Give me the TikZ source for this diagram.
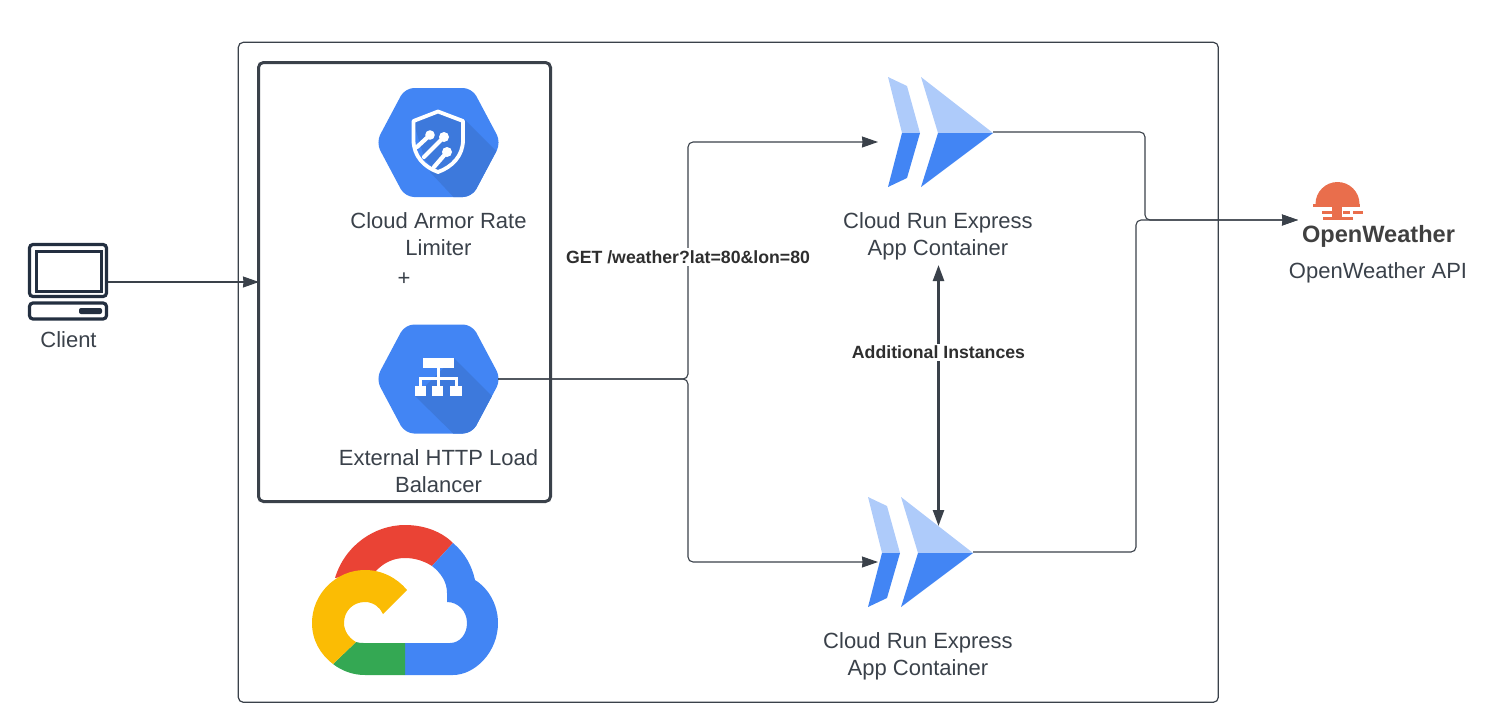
\documentclass[tikz,border=0pt]{standalone}
\usepackage{fontspec}
\setmainfont{Liberation Sans}
\usetikzlibrary{arrows.meta}
\definecolor{ink}{HTML}{3A414A}
\definecolor{navy}{HTML}{232F40}
\definecolor{gblue}{HTML}{4285F4}
\definecolor{gdark}{HTML}{3D79DC}
\definecolor{glight}{HTML}{AECBFA}
\definecolor{gred}{HTML}{EA4335}
\definecolor{gyel}{HTML}{FBBC04}
\definecolor{ggreen}{HTML}{34A853}
\definecolor{sunc}{HTML}{E96E4C}
\tikzset{
  px/.style={x=1pt,y=-1pt},
  conn/.style={draw=ink,line width=1.1pt,rounded corners=5pt,-{Stealth[length=16pt,width=11pt,inset=0.5pt]}},
  bidir/.style={draw=ink,line width=2.4pt,{Stealth[length=16pt,width=11pt,inset=0pt]}-{Stealth[length=16pt,width=11pt,inset=0pt]}},
  lbl/.style={font=\fontsize{22}{27}\selectfont,text=ink,align=center,inner sep=0pt},
  edge label/.style={font=\fontsize{17.7}{21}\selectfont\bfseries,text=black!82,fill=white,inner sep=2pt},
  pin/.style={draw=white,line width=4.2pt,line cap=round},
  mono/.style={draw=navy,line width=3.2pt,rounded corners=3.5pt},
  box/.style={anchor=north west,inner sep=0pt,outer sep=0pt},
}
\newcommand{\hexpath}[1]{(376,#1) -- (405,#1-54.5) -- (472,#1-54.5) -- (501,#1) -- (472,#1+54.5) -- (405,#1+54.5) -- cycle}
\newcommand{\runicon}[2]{%
  \begin{scope}[shift={(#1,#2)}]
    \fill[glight] (888,77) -- (907,86) -- (920,133) -- (902,133) -- cycle;
    \fill[gblue] (902,133) -- (920,133) -- (907,178) -- (888,187) -- cycle;
    \fill[glight] (921,77) -- (993,133) -- (938,133) -- cycle;
    \fill[gblue] (938,133) -- (993,133) -- (921,187) -- cycle;
  \end{scope}}
\begin{document}
\begin{tikzpicture}[px]
\useasboundingbox (0,0) rectangle (1486,726);
% frames
\node[box,draw=ink,line width=1.2pt,rounded corners=5pt,minimum width=980pt,minimum height=660pt] (frame) at (238.3,42.3) {};
\node[box,draw=ink,line width=3pt,rounded corners=5pt,minimum width=292pt,minimum height=439pt] (group) at (258.5,62.5) {};
% armor hexagon
\begin{scope}
  \clip[rounded corners=9pt] \hexpath{142.5};
  \fill[gblue] (370,80) rectangle (505,205);
  \fill[gdark] (465,120) -- (520,175) -- (475,220) -- (430,172) -- cycle;
\end{scope}
\fill[gdark] (413,121) -- (438,111) -- (463,121) -- (463,140) .. controls (463,156) and (452,168) .. (438,173) -- (425,160) -- cycle;
\draw[draw=white,line width=3.8pt,line join=round] (413.5,121) -- (438,111.5) -- (463,121) -- (463,140) .. controls (463,156) and (452,167) .. (438,172) .. controls (424,167) and (413.5,156) .. (413.5,140) -- cycle;
\draw[pin] (417,147) -- (430,135);
\fill[white] (430,135) circle (4.8);
\draw[pin] (424,157) -- (444,137);
\fill[white] (444,137) circle (5);
\draw[pin] (434,167) -- (447,152);
\fill[white] (447,152) circle (5);
% balancer hexagon
\begin{scope}
  \clip[rounded corners=9pt] \hexpath{379};
  \fill[gblue] (370,320) rectangle (505,440);
  \fill[gdark] (454,358) -- (510,414) -- (470,450) -- (415,396) -- cycle;
\end{scope}
\fill[white] (423,358) rectangle (454,368);
\fill[white] (415,386) rectangle (426,396);
\fill[white] (432,386) rectangle (443,396);
\fill[white] (450,386) rectangle (462,396);
\draw[white,line width=3pt] (438,368) -- (438,386) (420.5,387) -- (420.5,378.5) -- (456,378.5) -- (456,387);
% anchors for the hexagons and icons
\coordinate (lbout) at (498,379);
\coordinate (runAin) at (878,142);
\coordinate (runBin) at (878,562);
\coordinate (runAout) at (993,132);
\coordinate (runBout) at (973,552);
\coordinate (clientout) at (107,282);
\coordinate (groupin) at (259,282);
\coordinate (apiin) at (1298,220);
\coordinate (addtop) at (938.5,265);
\coordinate (addbot) at (938.5,526);
% connectors
\draw[conn] (clientout) -- (groupin);
\draw[conn] (lbout) -- (688,379) -- (688,142) -- (runAin);
\draw[conn] (lbout) -- (688,379) -- (688,562) -- (runBin);
\draw[conn] (runAout) -- (1145,132) -- (1145,220) -- (apiin);
\draw[conn] (runBout) -- (1136,552) -- (1136,220) -- (apiin);
\draw[bidir] (addtop) -- (addbot);
% cloud run
\runicon{0}{0}
\runicon{-20}{420}
% cloud logo
\fill[gred] (335,578) .. controls (345,545) and (375,525) .. (405,525) .. controls (425,525) and (442,532) .. (453,543) -- (432,566) .. controls (424,561) and (415,558) .. (405,558) .. controls (393,558) and (383,563) .. (375,572) -- cycle;
\fill[gblue] (453,543) .. controls (465,553) and (472,566) .. (475,580) .. controls (488,588) and (498,604) .. (498,623) .. controls (498,652) and (475,675) .. (453,675) -- (405,675) -- (405,643) -- (450,643) .. controls (460,643) and (467,634) .. (467,623) .. controls (467,611) and (458,602) .. (447,602) -- (447,593) .. controls (447,582) and (441,573) .. (432,566) -- cycle;
\fill[ggreen] (333,664) -- (356,642) .. controls (359,643) and (361,643) .. (365,643) -- (405,643) -- (405,675) -- (365,675) .. controls (353,675) and (342,671) .. (333,664) -- cycle;
\fill[gyel] (407,590) .. controls (397,578) and (382,570) .. (365,570) .. controls (336,570) and (312,594) .. (312,623) .. controls (312,640) and (320,654) .. (333,664) -- (356,642) .. controls (349,638) and (344,631) .. (344,623) .. controls (344,611) and (353,602) .. (365,602) .. controls (373,602) and (380,607) .. (383,614) -- cycle;
% client
\draw[mono] (29.5,244.5) rectangle (106.5,296.5);
\draw[draw=navy,line width=3pt] (36,251) rectangle (101,291);
\draw[mono] (29.5,303) rectangle (106.5,319);
\fill[navy,rounded corners=2pt] (79,308) rectangle (102,314);
% openweather logo
\begin{scope}
  \clip (1310,178) rectangle (1370,204);
  \fill[sunc] (1337.5,204) circle (22);
\end{scope}
\fill[sunc] (1313,204) rectangle (1360,207);
\fill[sunc] (1332,207) rectangle (1342,218);
\fill[sunc] (1322,211) rectangle (1340,214);
\fill[sunc] (1343,211) rectangle (1350,214);
\fill[sunc] (1353,211) rectangle (1363,214);
\fill[sunc] (1323,217) rectangle (1353,220);
% labels
\node[lbl] (client) at (68.5,340) {Client};
\node[lbl] (armor) at (438.5,234) {Cloud Armor Rate\\Limiter};
\node[lbl] (plus) at (404,279) {+};
\node[lbl] (lb) at (438.5,471) {External HTTP Load\\Balancer};
\node[lbl] (runA) at (938,236) {Cloud Run Express\\App Container};
\node[lbl] (runB) at (918,656) {Cloud Run Express\\App Container};
\node[lbl] (api) at (1378,273) {OpenWeather API};
\node[font=\fontsize{23.6}{28}\selectfont\bfseries,text=black!75,inner sep=0pt] (owlogo) at (1378.5,236) {OpenWeather};
\node[edge label] (get) at (688,257) {GET /weather?lat=80\&lon=80};
\node[edge label] (add) at (938.5,352) {Additional Instances};
\end{tikzpicture}
\end{document}
